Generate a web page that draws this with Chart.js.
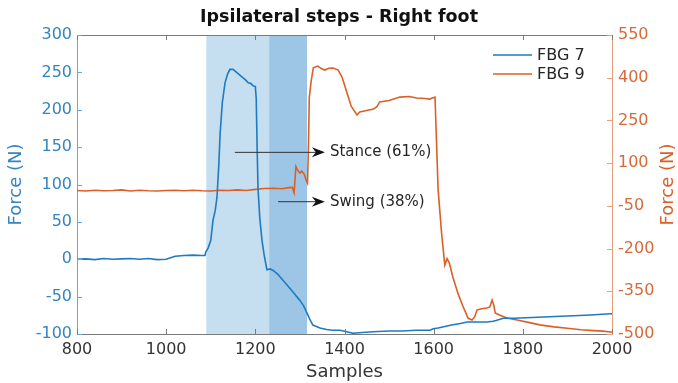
<!DOCTYPE html>
<html>
<head>
<meta charset="utf-8">
<script src="https://cdn.jsdelivr.net/npm/chart.js@4"></script>
<style>
  html, body { margin: 0; padding: 0; background: #fff; }
</style>
</head>
<body>
<canvas id="chart" width="678" height="383"></canvas>
<script>
// Data
const fbg7Samples = [800, 820, 840, 860, 880, 900, 920, 940, 960, 980, 1000, 1010, 1020, 1040, 1060, 1080,
  1087, 1089, 1094, 1100, 1105, 1110, 1114, 1118, 1121, 1126, 1132, 1138, 1143, 1150, 1158, 1166, 1172, 1178,
  1184, 1190, 1195, 1200, 1202, 1204, 1206, 1210, 1215, 1220, 1226, 1233, 1240, 1250, 1262, 1275, 1285, 1293,
  1300, 1308, 1316, 1322, 1329, 1337, 1345, 1360, 1374, 1390, 1405, 1419, 1440, 1464, 1500, 1530, 1560, 1592,
  1599, 1610, 1625, 1640, 1660, 1675, 1700, 1720, 1733, 1740, 1756, 1780, 1820, 1860, 1900, 1940, 1970, 1996, 2000];
const fbg7Force = [0, 0.5, -0.5, 1, 0, 0.5, 1, 0, 1, -0.5, 0, 2, 4, 5, 5.5, 5,
  5, 10, 15, 25, 52, 65, 83, 125, 168, 210, 236, 248, 254, 254, 250, 246, 243, 240,
  236, 235, 232, 231, 215, 150, 95, 55, 25, 5, -14, -13, -15, -20, -28, -37, -44, -50,
  -55, -62, -72, -80, -88, -90, -92, -94, -95, -95, -97, -99, -98, -97, -96, -96, -95, -95,
  -93, -92, -90, -88, -86, -84, -84, -84, -83, -82, -79, -79, -78, -77, -76, -75, -74, -73, -73];

const fbg9Samples = [800, 820, 840, 860, 880, 900, 920, 940, 960, 980, 1000, 1020, 1040, 1060, 1080, 1100,
  1120, 1140, 1160, 1180, 1200, 1220, 1240, 1260, 1275, 1283, 1287, 1291, 1296, 1300, 1304, 1310, 1314, 1317,
  1319, 1321, 1325, 1330, 1340, 1348, 1356, 1365, 1374, 1386, 1395, 1405, 1415, 1428, 1434, 1450, 1465, 1472,
  1479, 1500, 1524, 1545, 1562, 1580, 1591, 1603, 1610, 1618, 1625, 1630, 1635, 1643, 1655, 1665, 1677, 1686,
  1692, 1697, 1705, 1719, 1726, 1731, 1735, 1738, 1750, 1764, 1790, 1815, 1838, 1870, 1900, 1930, 1960, 1980, 1996, 2000];
const fbg9Force = [4, 2, 5, 3, 4, 6, 2, 5, 3, 2, 4, 5, 3, 5, 3, 2,
  5, 4, 6, 4, 8, 11, 12, 10, 14, 15, -4, 88, 72, 65, 72, 60, 40, 30,
  150, 330, 385, 435, 441, 432, 427, 433, 434, 427, 400, 350, 300, 269, 280, 285, 290, 297,
  315, 320, 332, 334, 329, 327, 325, 332, 6, -150, -258, -235, -250, -300, -360, -400, -444, -451,
  -440, -416, -412, -409, -405, -381, -400, -426, -435, -444, -452, -460, -468, -475, -480, -485, -488, -490, -493, -493];

// Gait phases (samples)
const phaseStart = [1090, 1231];
const phaseEnd = [1231, 1316];

// Arrow annotations: tail sample, head sample, force (left axis)
const noteLabels = ["Stance (61%)", "Swing (38%)"];
const noteFrom = [1154, 1251];
const noteTo = [1356, 1356];
const noteForce = [143, 77];

// Styles
const blue = "#1f7bc0";
const orange = "#dc5f28";
const phaseColors = ["#c6dff0", "#9dc6e6"];
const font = "DejaVu Sans";

function toPoints(xs, ys) {
    return xs.map((x, i) => ({ x: x, y: ys[i] }));
}

const overlay = {
    id: "overlay",
    beforeDatasetsDraw(chart) {
        const { ctx, chartArea: a, scales: { x } } = chart;
        ctx.save();
        phaseStart.forEach((s, i) => {
            const x0 = x.getPixelForValue(s);
            const x1 = x.getPixelForValue(phaseEnd[i]);
            ctx.fillStyle = phaseColors[i];
            ctx.fillRect(x0, a.top, x1 - x0, a.bottom - a.top);
        });
        ctx.restore();
    },
    afterDatasetsDraw(chart) {
        const { ctx, chartArea: a, scales: { x, y, y1 } } = chart;
        ctx.save();

        // top box line
        ctx.strokeStyle = "#7a7a7a";
        ctx.lineWidth = 1;
        ctx.beginPath();
        ctx.moveTo(a.left, a.top + 0.5);
        ctx.lineTo(a.right, a.top + 0.5);
        ctx.stroke();

        // inward ticks
        x.ticks.forEach(t => {
            const px = Math.round(x.getPixelForValue(t.value)) + 0.5;
            ctx.beginPath();
            ctx.moveTo(px, a.bottom); ctx.lineTo(px, a.bottom - 5);
            ctx.moveTo(px, a.top); ctx.lineTo(px, a.top + 5);
            ctx.stroke();
        });
        ctx.strokeStyle = "#6aa6d6";
        y.ticks.forEach(t => {
            const py = Math.round(y.getPixelForValue(t.value)) + 0.5;
            ctx.beginPath(); ctx.moveTo(a.left, py); ctx.lineTo(a.left + 5, py); ctx.stroke();
        });
        ctx.strokeStyle = "#e8a07c";
        y1.ticks.forEach(t => {
            const py = Math.round(y1.getPixelForValue(t.value)) + 0.5;
            ctx.beginPath(); ctx.moveTo(a.right, py); ctx.lineTo(a.right - 5, py); ctx.stroke();
        });

        // arrows and notes
        noteLabels.forEach((label, i) => {
            const x0 = x.getPixelForValue(noteFrom[i]);
            const x1 = x.getPixelForValue(noteTo[i]);
            const py = y.getPixelForValue(noteForce[i]);
            ctx.strokeStyle = "#333";
            ctx.lineWidth = 1;
            ctx.beginPath(); ctx.moveTo(x0, py); ctx.lineTo(x1 - 8, py); ctx.stroke();
            ctx.fillStyle = "#111";
            ctx.beginPath();
            ctx.moveTo(x1, py);
            ctx.lineTo(x1 - 13, py - 5);
            ctx.lineTo(x1 - 9, py);
            ctx.lineTo(x1 - 13, py + 5);
            ctx.closePath();
            ctx.fill();
            ctx.fillStyle = "#262626";
            ctx.font = "15px '" + font + "'";
            ctx.textBaseline = "middle";
            ctx.textAlign = "left";
            ctx.fillText(label, x1 + 5, py);
        });

        // legend inside the axes
        const names = chart.data.datasets.map(d => d.label);
        const colors = chart.data.datasets.map(d => d.borderColor);
        names.forEach((n, i) => {
            const ly = a.top + 20 + i * 19;
            ctx.strokeStyle = colors[i];
            ctx.lineWidth = 1.5;
            ctx.beginPath(); ctx.moveTo(493, ly); ctx.lineTo(532, ly); ctx.stroke();
            ctx.fillStyle = "#262626";
            ctx.font = "16px '" + font + "'";
            ctx.textBaseline = "middle";
            ctx.textAlign = "left";
            ctx.fillText(n, 537, ly + 1);
        });

        // right axis title, reading bottom to top
        ctx.translate(668, (a.top + a.bottom) / 2);
        ctx.rotate(-Math.PI / 2);
        ctx.fillStyle = orange;
        ctx.font = "18px '" + font + "'";
        ctx.textAlign = "center";
        ctx.textBaseline = "middle";
        ctx.fillText("Force (N)", 0, 0);
        ctx.restore();
    }
};

new Chart(document.getElementById("chart"), {
    type: "line",
    data: {
        datasets: [
            {
                label: "FBG 7",
                data: toPoints(fbg7Samples, fbg7Force),
                borderColor: blue,
                borderWidth: 1.6,
                pointRadius: 0,
                tension: 0,
                yAxisID: "y"
            },
            {
                label: "FBG 9",
                data: toPoints(fbg9Samples, fbg9Force),
                borderColor: orange,
                borderWidth: 1.6,
                pointRadius: 0,
                tension: 0,
                yAxisID: "y1"
            }
        ]
    },
    options: {
        responsive: false,
        animation: false,
        events: [],
        plugins: {
            legend: { display: false },
            tooltip: { enabled: false },
            title: {
                display: true,
                text: "Ipsilateral steps - Right foot",
                color: "#111",
                font: { family: font, size: 17.5, weight: "bold" },
                padding: { top: 7, bottom: 7 }
            }
        },
        scales: {
            x: {
                type: "linear",
                min: 800,
                max: 2000,
                ticks: {
                    stepSize: 200, color: "#333", padding: 6, font: { family: font, size: 16 },
                    callback: v => String(v)
                },
                grid: { display: false, drawTicks: false },
                border: { color: "#7a7a7a" },
                title: { display: true, text: "Samples", color: "#333", padding: 0, font: { family: font, size: 18 } },
                afterFit(s) { s.height = 49; }
            },
            y: {
                position: "left",
                min: -100,
                max: 300,
                ticks: { stepSize: 50, color: "#3485c0", padding: 5, font: { family: font, size: 16 } },
                grid: { display: false, drawTicks: false },
                border: { color: "#6aa6d6" },
                title: { display: true, text: "Force (N)", color: "#3485c0", padding: { top: 6, bottom: 0 }, font: { family: font, size: 18 } },
                afterFit(s) { s.width = 77; }
            },
            y1: {
                position: "right",
                min: -500,
                max: 550,
                ticks: { stepSize: 150, color: "#d8693a", padding: 6, font: { family: font, size: 16 } },
                grid: { display: false, drawTicks: false },
                border: { color: "#e8a07c" },
                afterFit(s) { s.width = 66; }
            }
        }
    },
    plugins: [overlay]
});
</script>
</body>
</html>
